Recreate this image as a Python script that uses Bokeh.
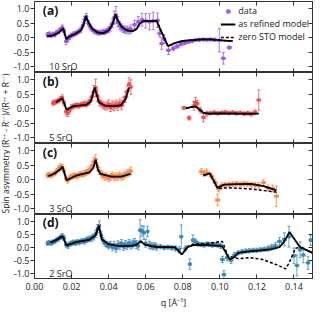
import math
from bokeh.plotting import figure
from bokeh.layouts import column, row
from bokeh.models import (Range1d, LinearAxis, FixedTicker, PrintfTickFormatter, Whisker,
                          TeeHead, ColumnDataSource, Legend, LegendItem, Label)
from bokeh.embed import file_html
from bokeh.resources import INLINE

# ---------------- data ----------------
X_TICKS = [0.00, 0.02, 0.04, 0.06, 0.08, 0.10, 0.12, 0.14]
Y_TICKS = [-1.0, -0.5, 0.0, 0.5, 1.0]
X_LABEL = "q [Å⁻¹]"
Y_LABEL = "Spin asymmetry (R⁺⁺ - R⁻⁻)/(R⁺⁺ + R⁻⁻)"
PANEL_TAGS = ["(a)", "(b)", "(c)", "(d)"]
SAMPLES = ["10 SrO", "5 SrO", "3 SrO", "2 SrO"]
COLORS = ["#9a4fe8", "#f24848", "#f5843f", "#2f84b3"]
LEGEND_LABELS = ["data", "as refined model", "zero STO model"]

# panel (a) 10 SrO
q_a = [0.007, 0.008, 0.009, 0.010, 0.011, 0.012, 0.013, 0.014, 0.015, 0.016,
       0.017, 0.018, 0.019, 0.020, 0.021, 0.022, 0.023, 0.024, 0.025, 0.026,
       0.027, 0.028, 0.029, 0.030, 0.031, 0.032, 0.033, 0.034, 0.035, 0.036,
       0.037, 0.038, 0.039, 0.040, 0.041, 0.042, 0.043, 0.044, 0.045, 0.046,
       0.047, 0.048, 0.049, 0.050, 0.051, 0.052,
       0.054, 0.056, 0.058, 0.060, 0.062, 0.064, 0.0664, 0.0675, 0.0686, 0.0700,
       0.0723, 0.0749, 0.0770, 0.0790, 0.0810, 0.0830, 0.0850, 0.0870, 0.0890,
       0.0910, 0.0930, 0.0950, 0.0970, 0.0997, 0.1019, 0.1051]
asym_a = [0.10, 0.12, 0.08, 0.13, 0.10, 0.18, 0.22, 0.28, 0.35, 0.22,
          -0.12, -0.05, 0.03, 0.08, 0.12, 0.14, 0.18, 0.22, 0.28, 0.42,
          0.62, 0.72, 0.50, 0.38, 0.30, 0.24, 0.20, 0.18, 0.17, 0.18,
          0.20, 0.20, 0.24, 0.28, 0.35, 0.50, 0.70, 0.78, 0.55, 0.42,
          0.35, 0.30, 0.26, 0.28, 0.25, 0.30,
          0.45, 0.55, 0.62, 0.58, 0.55, 0.58, 0.60, 0.15, -0.20, -0.05,
          -0.43, -0.37, -0.30, -0.22, -0.18, -0.14, -0.12, -0.08, -0.07,
          -0.06, -0.07, -0.06, -0.07, -0.09, -0.71, -0.34]
err_a = [0.08, 0.08, 0.07, 0.07, 0.07, 0.07, 0.08, 0.08, 0.09, 0.10,
         0.12, 0.10, 0.09, 0.08, 0.08, 0.08, 0.08, 0.08, 0.09, 0.10,
         0.12, 0.12, 0.10, 0.09, 0.08, 0.08, 0.08, 0.08, 0.08, 0.08,
         0.08, 0.09, 0.09, 0.10, 0.12, 0.15, 0.22, 0.30, 0.18, 0.14,
         0.12, 0.12, 0.12, 0.12, 0.12, 0.14,
         0.15, 0.18, 0.22, 0.25, 0.28, 0.30, 0.25, 0.12, 0.20, 0.15,
         0.15, 0.08, 0.06, 0.06, 0.06, 0.05, 0.05, 0.05, 0.05,
         0.05, 0.05, 0.05, 0.06, 0.40, 0.20, 0.05]
dq_a = [0.0006, 0.0006, 0.0006, 0.0006, 0.0006, 0.0006, 0.0006, 0.0006, 0.0006, 0.0006,
        0.0006, 0.0006, 0.0006, 0.0006, 0.0006, 0.0006, 0.0006, 0.0006, 0.0006, 0.0006,
        0.0006, 0.0006, 0.0006, 0.0006, 0.0006, 0.0006, 0.0006, 0.0006, 0.0006, 0.0006,
        0.0006, 0.0006, 0.0006, 0.0006, 0.0006, 0.0006, 0.0006, 0.0006, 0.0006, 0.0006,
        0.0006, 0.0006, 0.0006, 0.0006, 0.0006, 0.0006,
        0.0009, 0.0009, 0.0009, 0.0009, 0.0009, 0.0009, 0.0009, 0.0009, 0.0009, 0.0009,
        0.0010, 0.0010, 0.0010, 0.0010, 0.0010, 0.0010, 0.0010, 0.0010, 0.0010,
        0.0011, 0.0011, 0.0011, 0.0011, 0.0011, 0.0011, 0.0011]
model_q_a = [0.007, 0.010, 0.013, 0.0155, 0.0165, 0.0172, 0.019, 0.022, 0.025, 0.0265,
             0.0277, 0.029, 0.031, 0.034, 0.037, 0.040, 0.042, 0.0437, 0.045, 0.047,
             0.050, 0.053, 0.055, 0.057, 0.059, 0.063, 0.066, 0.0675, 0.072, 0.076,
             0.080, 0.085, 0.090, 0.095, 0.100, 0.104, 0.107]
model_a = [0.05, 0.08, 0.17, 0.32, 0.10, -0.05, 0.05, 0.13, 0.25, 0.45,
           0.75, 0.55, 0.32, 0.18, 0.15, 0.25, 0.45, 0.80, 0.60, 0.38,
           0.25, 0.22, 0.30, 0.50, 0.58, 0.57, 0.57, 0.35, -0.29, -0.18,
           -0.11, -0.08, -0.06, -0.06, -0.08, -0.11, -0.11]
zero_q_a = model_q_a
zero_a = model_a

# panel (b) 5 SrO
q_b = [0.010, 0.011, 0.012, 0.013, 0.014, 0.015, 0.016, 0.017, 0.018, 0.019,
       0.020, 0.021, 0.022, 0.023, 0.024, 0.025, 0.026, 0.027, 0.028, 0.029,
       0.030, 0.031, 0.032, 0.033, 0.034, 0.035, 0.036, 0.037, 0.038, 0.039,
       0.040, 0.041, 0.042, 0.043, 0.044, 0.045, 0.046, 0.047, 0.048, 0.049,
       0.050, 0.051, 0.052,
       0.0807, 0.0834, 0.0860, 0.0869, 0.0878, 0.0895, 0.0912, 0.0930, 0.0950, 0.0970,
       0.0990, 0.1010, 0.1030, 0.1050, 0.1070, 0.1090, 0.1110, 0.1130, 0.1150, 0.1170,
       0.1190, 0.1210]
asym_b = [0.20, 0.22, 0.25, 0.28, 0.33, 0.38, 0.20, -0.10, -0.15, -0.05,
          0.05, 0.08, 0.10, 0.12, 0.10, 0.14, 0.15, 0.17, 0.15, 0.20,
          0.28, 0.42, 0.60, 0.72, 0.45, 0.25, 0.18, 0.12, 0.08, 0.10,
          0.15, 0.05, 0.12, 0.08, 0.15, 0.10, 0.18, 0.12, 0.25, 0.40,
          0.60, 0.85, 0.75,
          0.03, -0.32, 0.10, 0.22, 0.17, -0.05, -0.30, -0.17, -0.15, -0.13,
          -0.16, -0.14, -0.12, -0.15, -0.13, -0.16, -0.14, -0.17, -0.15, -0.18,
          -0.12, 0.30]
err_b = [0.08, 0.08, 0.08, 0.08, 0.09, 0.10, 0.10, 0.12, 0.12, 0.10,
         0.09, 0.08, 0.08, 0.08, 0.08, 0.08, 0.08, 0.09, 0.09, 0.10,
         0.12, 0.15, 0.20, 0.30, 0.20, 0.15, 0.12, 0.12, 0.12, 0.14,
         0.15, 0.15, 0.15, 0.15, 0.15, 0.15, 0.15, 0.15, 0.15, 0.18,
         0.20, 0.22, 0.25,
         0.05, 0.07, 0.15, 0.17, 0.12, 0.10, 0.15, 0.08, 0.06, 0.06,
         0.06, 0.06, 0.06, 0.06, 0.06, 0.06, 0.06, 0.06, 0.07, 0.07,
         0.08, 0.35]
dq_b = [0.0006, 0.0006, 0.0006, 0.0006, 0.0006, 0.0006, 0.0006, 0.0006, 0.0006, 0.0006,
        0.0006, 0.0006, 0.0006, 0.0006, 0.0006, 0.0006, 0.0006, 0.0006, 0.0006, 0.0006,
        0.0006, 0.0006, 0.0006, 0.0006, 0.0006, 0.0006, 0.0006, 0.0006, 0.0006, 0.0006,
        0.0006, 0.0006, 0.0006, 0.0006, 0.0006, 0.0006, 0.0006, 0.0006, 0.0006, 0.0006,
        0.0006, 0.0006, 0.0006,
        0.0012, 0.0010, 0.0010, 0.0010, 0.0010, 0.0010, 0.0010, 0.0010, 0.0010, 0.0010,
        0.0010, 0.0010, 0.0010, 0.0010, 0.0010, 0.0010, 0.0010, 0.0010, 0.0010, 0.0010,
        0.0010, 0.0010]
model_q_b_low = [0.0116, 0.015, 0.0173, 0.021, 0.0279, 0.0304, 0.0325, 0.0347, 0.038,
                 0.0433, 0.0467, 0.0492, 0.051]
model_b_low = [0.22, 0.36, -0.03, 0.09, 0.13, 0.25, 0.73, 0.22, 0.11,
               0.09, 0.12, 0.34, 0.73]
model_q_b_high = [0.0817, 0.0869, 0.0911, 0.0946, 0.100, 0.110, 0.121]
model_b_high = [0.02, 0.08, -0.14, -0.17, -0.16, -0.17, -0.17]
zero_q_b_high = model_q_b_high
zero_b_high = model_b_high

# panel (c) 3 SrO
q_c = [0.007, 0.008, 0.009, 0.010, 0.011, 0.012, 0.013, 0.014, 0.015, 0.016,
       0.017, 0.018, 0.019, 0.020, 0.021, 0.022, 0.023, 0.024, 0.025, 0.026,
       0.027, 0.028, 0.029, 0.030, 0.031, 0.032, 0.033, 0.034, 0.035, 0.036,
       0.037, 0.038, 0.039, 0.040, 0.041, 0.042, 0.043, 0.044, 0.045, 0.046,
       0.047, 0.048, 0.049, 0.050, 0.051, 0.052,
       0.0900, 0.0915, 0.0930, 0.0955, 0.0975, 0.0988, 0.0995, 0.1010, 0.1030, 0.1050,
       0.1070, 0.1090, 0.1110, 0.1130, 0.1150, 0.1170, 0.1190, 0.1210, 0.1236, 0.1260,
       0.1285, 0.1305]
asym_c = [0.15, 0.18, 0.14, 0.20, 0.22, 0.30, 0.38, 0.45, 0.42, 0.30,
          0.05, -0.02, 0.08, 0.10, 0.13, 0.15, 0.12, 0.18, 0.20, 0.18,
          0.22, 0.25, 0.30, 0.35, 0.48, 0.62, 0.70, 0.45, 0.30, 0.20,
          0.15, 0.10, 0.12, 0.05, 0.10, 0.15, 0.08, 0.12, 0.10, 0.15,
          0.10, 0.14, 0.18, 0.22, 0.25, 0.30,
          0.28, 0.22, 0.25, 0.12, -0.10, -0.70, -0.32, -0.20, -0.18, -0.16,
          -0.15, -0.14, -0.16, -0.14, -0.15, -0.17, -0.18, -0.20, -0.10, -0.28,
          -0.30, -0.57]
err_c = [0.08, 0.08, 0.08, 0.08, 0.08, 0.09, 0.10, 0.10, 0.10, 0.10,
         0.10, 0.10, 0.09, 0.09, 0.09, 0.09, 0.09, 0.09, 0.09, 0.09,
         0.10, 0.10, 0.11, 0.12, 0.14, 0.16, 0.16, 0.14, 0.12, 0.12,
         0.12, 0.12, 0.12, 0.12, 0.12, 0.12, 0.12, 0.12, 0.12, 0.12,
         0.12, 0.12, 0.12, 0.12, 0.12, 0.14,
         0.10, 0.10, 0.12, 0.10, 0.12, 0.20, 0.10, 0.10, 0.08, 0.08,
         0.08, 0.08, 0.08, 0.08, 0.08, 0.08, 0.08, 0.10, 0.10, 0.10,
         0.12, 0.35]
dq_c = [0.0006, 0.0006, 0.0006, 0.0006, 0.0006, 0.0006, 0.0006, 0.0006, 0.0006, 0.0006,
        0.0006, 0.0006, 0.0006, 0.0006, 0.0006, 0.0006, 0.0006, 0.0006, 0.0006, 0.0006,
        0.0006, 0.0006, 0.0006, 0.0006, 0.0006, 0.0006, 0.0006, 0.0006, 0.0006, 0.0006,
        0.0006, 0.0006, 0.0006, 0.0006, 0.0006, 0.0006, 0.0006, 0.0006, 0.0006, 0.0006,
        0.0006, 0.0006, 0.0006, 0.0006, 0.0006, 0.0006,
        0.0012, 0.0012, 0.0012, 0.0012, 0.0012, 0.0012, 0.0012, 0.0011, 0.0011, 0.0011,
        0.0011, 0.0011, 0.0011, 0.0011, 0.0011, 0.0011, 0.0011, 0.0011, 0.0011, 0.0011,
        0.0011, 0.0011]
model_q_c_low = [0.0074, 0.011, 0.0140, 0.0151, 0.0173, 0.0228, 0.0296, 0.0318, 0.033, 0.0342,
                 0.0356, 0.0415, 0.0467, 0.0518]
model_c_low = [0.12, 0.22, 0.36, 0.46, -0.02, 0.15, 0.25, 0.42, 0.69, 0.35,
               0.20, 0.11, 0.11, 0.20]
model_q_c_high = [0.0911, 0.0946, 0.0988, 0.1022, 0.1100, 0.1168, 0.1236, 0.1305]
model_c_high = [0.15, 0.22, -0.28, -0.17, -0.15, -0.14, -0.22, -0.37]
zero_q_c_high = [0.0911, 0.0946, 0.0988, 0.1050, 0.1168, 0.1236, 0.1305]
zero_c_high = [0.15, 0.22, -0.30, -0.28, -0.32, -0.37, -0.43]

# panel (d) 2 SrO
q_d = [0.007, 0.008, 0.009, 0.010, 0.011, 0.012, 0.013, 0.014, 0.015, 0.016,
       0.017, 0.018, 0.019, 0.020, 0.021, 0.022, 0.023, 0.024, 0.025, 0.026,
       0.027, 0.028, 0.029, 0.030, 0.031, 0.032, 0.033, 0.034, 0.035, 0.036,
       0.037, 0.038, 0.039, 0.040, 0.041, 0.042, 0.043, 0.044, 0.045, 0.046,
       0.047, 0.048, 0.049, 0.050, 0.051, 0.052, 0.053, 0.054, 0.055, 0.056,
       0.057, 0.058, 0.059, 0.060, 0.061, 0.062, 0.063, 0.064, 0.065, 0.066,
       0.068, 0.070, 0.072, 0.074, 0.076, 0.078, 0.0792, 0.0815, 0.0838, 0.0855,
       0.0870, 0.0885, 0.0900, 0.0915, 0.0930, 0.0945, 0.0960, 0.0975, 0.0990, 0.1005,
       0.1014, 0.1022, 0.1040, 0.1060, 0.1080, 0.1100, 0.1120, 0.1140, 0.1160, 0.1180,
       0.1200, 0.1220, 0.1240, 0.1260, 0.1280, 0.1300, 0.1322, 0.1348, 0.1373, 0.1400,
       0.1416, 0.1433, 0.1450, 0.1476, 0.1490]
asym_d = [0.15, 0.18, 0.15, 0.20, 0.22, 0.28, 0.32, 0.38, 0.42, 0.35,
          0.10, 0.05, 0.12, 0.15, 0.18, 0.16, 0.20, 0.18, 0.22, 0.24,
          0.22, 0.27, 0.30, 0.32, 0.35, 0.40, 0.50, 0.70, 0.82, 0.45,
          0.25, 0.15, 0.10, 0.05, 0.10, 0.00, 0.08, -0.05, 0.10, 0.05,
          0.15, 0.02, 0.10, 0.05, 0.15, 0.08, 0.12, 0.18, 0.10, 0.05,
          0.65, 0.62, 0.55, 0.15, 0.60, 0.08, 0.05, 0.02, 0.05, 0.00,
          0.02, -0.02, 0.00, -0.03, -0.05, -0.10, 0.40, -0.05, -0.65, 0.27,
          0.20, 0.12, 0.10, 0.08, 0.12, 0.10, 0.08, 0.10, 0.08, 0.05,
          -0.47, -1.05, -0.40, -0.50, -0.30, -0.22, -0.18, -0.15, -0.14, -0.12,
          -0.12, -0.10, -0.08, -0.05, 0.00, 0.05, 0.22, 0.30, 0.40, -0.33,
          -0.70, -0.10, -0.30, -0.60, 0.27]
err_d = [0.08, 0.08, 0.08, 0.08, 0.08, 0.08, 0.09, 0.09, 0.10, 0.10,
         0.10, 0.10, 0.09, 0.09, 0.09, 0.09, 0.09, 0.09, 0.09, 0.09,
         0.10, 0.10, 0.10, 0.11, 0.12, 0.12, 0.14, 0.16, 0.18, 0.14,
         0.12, 0.12, 0.12, 0.12, 0.12, 0.14, 0.14, 0.14, 0.14, 0.14,
         0.14, 0.14, 0.15, 0.15, 0.15, 0.15, 0.15, 0.15, 0.15, 0.15,
         0.40, 0.20, 0.25, 0.15, 0.20, 0.15, 0.12, 0.12, 0.12, 0.12,
         0.08, 0.08, 0.08, 0.08, 0.10, 0.12, 0.45, 0.10, 0.20, 0.20,
         0.12, 0.08, 0.08, 0.08, 0.08, 0.08, 0.08, 0.08, 0.08, 0.10,
         0.12, 0.15, 0.12, 0.12, 0.10, 0.08, 0.08, 0.08, 0.08, 0.08,
         0.08, 0.08, 0.08, 0.10, 0.10, 0.12, 0.15, 0.25, 0.40, 0.30,
         0.40, 0.30, 0.30, 0.25, 0.20]
dq_d = [0.0006, 0.0006, 0.0006, 0.0006, 0.0006, 0.0006, 0.0006, 0.0006, 0.0006, 0.0006,
        0.0006, 0.0006, 0.0006, 0.0006, 0.0006, 0.0006, 0.0006, 0.0006, 0.0006, 0.0006,
        0.0006, 0.0006, 0.0006, 0.0006, 0.0006, 0.0006, 0.0006, 0.0006, 0.0006, 0.0006,
        0.0006, 0.0006, 0.0006, 0.0006, 0.0006, 0.0006, 0.0006, 0.0006, 0.0006, 0.0006,
        0.0006, 0.0006, 0.0006, 0.0006, 0.0006, 0.0006, 0.0006, 0.0006, 0.0006, 0.0006,
        0.0007, 0.0007, 0.0007, 0.0007, 0.0007, 0.0007, 0.0007, 0.0007, 0.0007, 0.0007,
        0.0008, 0.0008, 0.0008, 0.0008, 0.0008, 0.0008, 0.0008, 0.0008, 0.0008, 0.0008,
        0.0009, 0.0009, 0.0009, 0.0009, 0.0009, 0.0009, 0.0009, 0.0009, 0.0009, 0.0009,
        0.0010, 0.0010, 0.0010, 0.0010, 0.0010, 0.0010, 0.0010, 0.0010, 0.0010, 0.0010,
        0.0010, 0.0010, 0.0010, 0.0010, 0.0010, 0.0010, 0.0010, 0.0010, 0.0010, 0.0010,
        0.0010, 0.0010, 0.0010, 0.0010, 0.0008]
model_q_d = [0.0087, 0.0120, 0.0151, 0.0173, 0.0228, 0.0296, 0.0330, 0.0347, 0.0364, 0.0398,
             0.0440, 0.0484, 0.0530, 0.0552, 0.0573, 0.0595, 0.0630, 0.0672, 0.0757, 0.0795,
             0.0826, 0.0860, 0.0929, 0.1000, 0.1014, 0.1053, 0.1074, 0.1099, 0.1151, 0.1210,
             0.1270, 0.1322, 0.1348, 0.1376, 0.1399, 0.1433, 0.1500]
model_d = [0.18, 0.28, 0.42, 0.07, 0.20, 0.28, 0.46, 0.82, 0.29, 0.12,
           0.06, 0.04, 0.06, 0.10, 0.22, 0.10, 0.04, 0.00, 0.00, -0.28,
           0.00, 0.09, 0.08, 0.05, 0.02, -0.47, -0.40, -0.22, -0.17, -0.13,
           -0.09, 0.00, 0.22, 0.58, 0.34, 0.00, -0.22]
zero_q_d = [0.0087, 0.0120, 0.0151, 0.0173, 0.0228, 0.0296, 0.0330, 0.0347, 0.0364, 0.0398,
            0.0440, 0.0484, 0.0530, 0.0552, 0.0573, 0.0595, 0.0630, 0.0672, 0.0757, 0.0795,
            0.0826, 0.0860, 0.0929, 0.0990, 0.1014, 0.1043, 0.1099, 0.1160, 0.1230, 0.1305,
            0.1356, 0.1381, 0.1407, 0.1433, 0.1500]
zero_d = [0.18, 0.28, 0.42, 0.07, 0.20, 0.28, 0.46, 0.82, 0.29, 0.12,
          0.06, 0.04, 0.06, 0.10, 0.22, 0.10, 0.04, 0.00, 0.00, -0.28,
          0.03, 0.12, 0.14, 0.20, 0.22, -0.33, -0.44, -0.40, -0.47, -0.67,
          -0.83, -0.50, -0.05, 0.00, -0.22]

# ---------------- layout / style ----------------
FONT = "Open Sans"
AX = "#333333"
TXT = "#222222"
X_RANGE = (0.0, 0.15)
Y_RANGE = (-1.2, 1.25)
LABEL_W = 10
PANEL_W = 303
HEIGHTS = [72, 71, 71, 97]
TOTAL_H = sum(HEIGHTS)


def tick_only_axis(ticks):
    # ticks drawn as minor ticks so that no labels exist at all
    ax = LinearAxis(ticker=FixedTicker(ticks=[], minor_ticks=ticks))
    ax.major_label_standoff = 0
    ax.major_tick_in = 0
    ax.major_tick_out = 0
    ax.minor_tick_in = 4
    ax.minor_tick_out = 0
    ax.minor_tick_line_color = AX
    ax.axis_line_color = AX
    return ax


def make_panel(i, q, v, e, dq, solids, dashes, bottom_labels):
    p = figure(width=PANEL_W, height=HEIGHTS[i],
               x_range=Range1d(*X_RANGE), y_range=Range1d(*Y_RANGE),
               output_backend="svg", toolbar_location=None,
               x_axis_location=None, y_axis_location=None,
               min_border_left=0, min_border_right=1,
               min_border_top=1 if i == 0 else 0, min_border_bottom=0)
    p.xgrid.grid_line_color = None
    p.ygrid.grid_line_color = None
    p.outline_line_color = AX
    p.background_fill_color = "white"
    p.border_fill_color = "white"

    left = LinearAxis(ticker=FixedTicker(ticks=Y_TICKS),
                      formatter=PrintfTickFormatter(format="%.1f"))
    left.major_tick_out = 4
    left.major_tick_in = 0
    left.minor_tick_line_color = None
    left.major_label_standoff = 1
    left.major_label_text_font = FONT
    left.major_label_text_font_size = "9px"
    left.major_label_text_color = TXT
    left.axis_line_color = AX
    left.major_tick_line_color = AX
    p.add_layout(left, "left")
    p.add_layout(tick_only_axis(Y_TICKS), "right")
    p.add_layout(tick_only_axis(X_TICKS), "above")
    if bottom_labels:
        bot = LinearAxis(ticker=FixedTicker(ticks=X_TICKS),
                         formatter=PrintfTickFormatter(format="%.2f"))
        bot.major_tick_in = 4
        bot.major_tick_out = 0
        bot.minor_tick_line_color = None
        bot.major_label_standoff = 4
        bot.major_label_text_font = FONT
        bot.major_label_text_font_size = "9px"
        bot.major_label_text_color = TXT
        bot.axis_line_color = AX
        bot.major_tick_line_color = AX
        bot.axis_label = X_LABEL
        bot.axis_label_text_font = FONT
        bot.axis_label_text_font_size = "9px"
        bot.axis_label_text_font_style = "normal"
        bot.axis_label_text_color = TXT
        bot.axis_label_standoff = 3
        p.add_layout(bot, "below")
    else:
        p.add_layout(tick_only_axis(X_TICKS), "below")

    col = COLORS[i]
    src = ColumnDataSource(dict(
        q=q, v=v,
        lo=[a - b for a, b in zip(v, e)], up=[a + b for a, b in zip(v, e)],
        ql=[a - b for a, b in zip(q, dq)], qu=[a + b for a, b in zip(q, dq)]))
    for dim, base, lo, up in (("height", "q", "lo", "up"), ("width", "v", "ql", "qu")):
        w = Whisker(source=src, base=base, lower=lo, upper=up, dimension=dim,
                    line_color=col, line_alpha=0.75, line_width=1,
                    lower_head=TeeHead(size=3, line_color=col, line_alpha=0.75, line_width=1),
                    upper_head=TeeHead(size=3, line_color=col, line_alpha=0.75, line_width=1))
        p.add_layout(w)
    sc = p.scatter("q", "v", source=src, size=3, fill_color=col, line_color=col, alpha=0.85)

    solid_r = None
    dash_r = None
    for xs, ys in dashes:
        dash_r = p.line(xs, ys, line_color="black", line_width=1.5, line_dash="3 2")
    for xs, ys in solids:
        solid_r = p.line(xs, ys, line_color="black", line_width=1.8)

    p.add_layout(Label(x=0.0045, y=0.93, text=PANEL_TAGS[i], text_font=FONT,
                       text_font_style="bold", text_font_size="12px",
                       text_baseline="middle", text_color="#111111"))
    p.add_layout(Label(x=0.0080, y=-0.99, text=SAMPLES[i], text_font=FONT,
                       text_font_size="9px", text_baseline="middle", text_color=TXT))
    return p, sc, solid_r, dash_r


pa, sca, sola, dasha = make_panel(0, q_a, asym_a, err_a, dq_a,
                                  [(model_q_a, model_a)], [(zero_q_a, zero_a)], False)
pb, _, _, _ = make_panel(1, q_b, asym_b, err_b, dq_b,
                         [(model_q_b_low, model_b_low), (model_q_b_high, model_b_high)],
                         [(zero_q_b_high, zero_b_high)], False)
pc, _, _, _ = make_panel(2, q_c, asym_c, err_c, dq_c,
                         [(model_q_c_low, model_c_low), (model_q_c_high, model_c_high)],
                         [(zero_q_c_high, zero_c_high)], False)
pd_, _, _, _ = make_panel(3, q_d, asym_d, err_d, dq_d,
                          [(model_q_d, model_d)], [(zero_q_d, zero_d)], True)

legend = Legend(items=[LegendItem(label=LEGEND_LABELS[0], renderers=[sca]),
                       LegendItem(label=LEGEND_LABELS[1], renderers=[sola]),
                       LegendItem(label=LEGEND_LABELS[2], renderers=[dasha])],
                location="top_right", label_text_font=FONT, label_text_font_size="9px",
                label_text_color=TXT, glyph_width=15, glyph_height=10, label_height=10,
                label_standoff=3, spacing=0, padding=2, margin=3,
                border_line_color=None, background_fill_alpha=0)
pa.add_layout(legend)

lab = figure(width=LABEL_W, height=TOTAL_H, x_range=Range1d(0, LABEL_W),
             y_range=Range1d(0, TOTAL_H), output_backend="svg", toolbar_location=None,
             x_axis_location=None, y_axis_location=None, min_border=0)
lab.xgrid.grid_line_color = None
lab.ygrid.grid_line_color = None
lab.outline_line_color = None
lab.add_layout(Label(x=LABEL_W / 2, y=TOTAL_H - 143, text=Y_LABEL, angle=math.pi / 2,
                     text_align="center", text_baseline="middle", text_font=FONT,
                     text_font_size="8.5px", text_color=TXT))

layout = row(lab, column(pa, pb, pc, pd_, spacing=0), spacing=0)
open("out.html", "w").write(file_html(layout, INLINE))
